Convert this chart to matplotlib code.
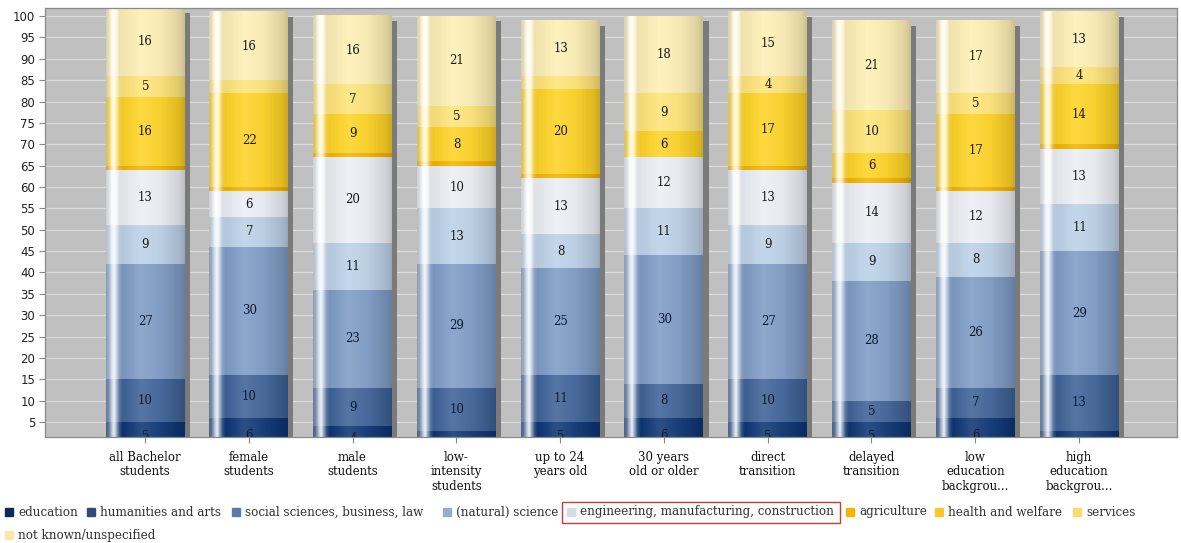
import numpy as np
import matplotlib
matplotlib.use("Agg")
import matplotlib.pyplot as plt
from matplotlib.patches import Rectangle
from matplotlib.colors import to_rgb

# ---------------- data ----------------
categories = ["all Bachelor\nstudents", "female\nstudents", "male\nstudents",
              "low-\nintensity\nstudents", "up to 24\nyears old", "30 years\nold or older",
              "direct\ntransition", "delayed\ntransition", "low\neducation\nbackgrou...",
              "high\neducation\nbackgrou..."]
series_names = ["education", "humanities and arts", "social sciences, business, law",
                "(natural) science", "engineering, manufacturing, construction",
                "agriculture", "health and welfare", "services", "not known/unspecified"]
education   = [5, 6, 4, 3, 5, 6, 5, 5, 6, 3]
humanities  = [10, 10, 9, 10, 11, 8, 10, 5, 7, 13]
social      = [27, 30, 23, 29, 25, 30, 27, 28, 26, 29]
science     = [9, 7, 11, 13, 8, 11, 9, 9, 8, 11]
engineering = [13, 6, 20, 10, 13, 12, 13, 14, 12, 13]
agriculture = [1, 1, 1, 1, 1, 0, 1, 1, 1, 1]
health      = [16, 22, 9, 8, 20, 6, 17, 6, 17, 14]
services    = [5, 3, 7, 5, 3, 9, 4, 10, 5, 4]
unknown     = [16, 16, 16, 21, 13, 18, 15, 21, 17, 13]
series = [education, humanities, social, science, engineering,
          agriculture, health, services, unknown]
yticks = list(range(5, 101, 5))

# ---------------- style ----------------
bar_colors = ["#0e3674", "#3f6398", "#7f9cc6", "#bdd2e8", "#eceff4",
              "#f5b400", "#ffd426", "#ffe57a", "#fff0b5"]
legend_colors = ["#0a2a5c", "#2d4a7a", "#5b7aa8", "#9aabc5", "#d6dae2",
                 "#f5b400", "#fbc52b", "#f8dc6e", "#fde9a5"]
label_colors = ["#0d1a33", "#0d1a33", "#0d1a33", "#1a1a1a", "#1a1a1a",
                "#1a1a1a", "#1a1a1a", "#1a1a1a", "#1a1a1a"]

W, H = 1181, 543
fig = plt.figure(figsize=(W / 100, H / 100), dpi=100)
fig.patch.set_facecolor("white")

L, R, T, B = 45, 1177, 8, 437
ax = fig.add_axes([L / W, 1 - B / H, (R - L) / W, (B - T) / H])
ax.set_facecolor("#c0c0c0")

x = np.arange(len(categories))
bw = 0.76
totals = np.sum(np.array(series), axis=0)

# shadow
ax.bar(x + 0.05, totals - 1.2, bottom=0, width=bw, color="#7a7a7a", zorder=1.5, linewidth=0)

# gradient profile (cylinder look)
tk = [0, 0.03, 0.07, 0.10, 0.13, 0.17, 0.21, 0.45, 0.70, 0.92, 1.0]
wk = [0.30, 0.35, 0.70, 0.92, 0.60, 0.18, 0.0, 0.12, 0.05, 0.0, 0.0]
dk = [0.85, 0.90, 1.0, 1.0, 1.0, 0.93, 0.95, 1.0, 0.97, 0.88, 0.80]
tt = np.linspace(0, 1, 200)
wmix = np.interp(tt, tk, wk)[:, None]
dmul = np.interp(tt, tk, dk)[:, None]

bottoms = np.zeros(len(categories))
for i, vals in enumerate(series):
    vals = np.array(vals, dtype=float)
    bars = ax.bar(x, vals, bottom=bottoms, width=bw, color=bar_colors[i],
                  linewidth=0, zorder=2)
    base = np.array(to_rgb(bar_colors[i]))[None, :]
    img = np.clip((base * (1 - wmix) + wmix) * dmul, 0, 1)[None, :, :]
    for j, p in enumerate(bars):
        if p.get_height() <= 0:
            continue
        x0, y0 = p.get_x(), p.get_y()
        ax.imshow(img, extent=(x0, x0 + p.get_width(), y0, y0 + p.get_height()),
                  aspect="auto", interpolation="bilinear", zorder=2.5)
        if vals[j] >= 4:
            ycen = y0 + p.get_height() / 2
            if i == 0:
                ycen = y0 + p.get_height() * 0.3
            ax.text(x0 + p.get_width() / 2 + 0.005, ycen, f"{int(vals[j])}",
                    ha="center", va="center", fontsize=8.5, family="DejaVu Serif",
                    color=label_colors[i], zorder=4, clip_on=True)
    bottoms += vals

ax.set_xlim(-0.963, 9.944)
ax.set_ylim(1.5, 101.9)
ax.set_yticks(yticks)
ax.set_yticklabels([str(v) for v in yticks], fontsize=8.5, color="#222222")
ax.set_xticks(x)
ax.set_xticklabels(categories, fontsize=8.5, family="DejaVu Serif", color="#111111",
                   linespacing=1.15)
ax.tick_params(axis="both", length=4, width=0.8, color="#888888", pad=3)
ax.tick_params(axis="x", pad=6)
ax.yaxis.grid(True, color="#d9d9d9", linewidth=0.9, zorder=0)
ax.set_axisbelow(True)
for s in ax.spines.values():
    s.set_color("#8a8a8a")
    s.set_linewidth(0.9)

# ---------------- legend (manual) ----------------
def fx(px):
    return px / W

def fy(py):
    return 1 - py / H

sq_x = [5, 87, 232, 443, 567, 846, 935, 1073, 5]
sq_y = [512, 512, 512, 512, 512, 512, 512, 512, 535]
for i, name in enumerate(series_names):
    fig.patches.append(Rectangle((fx(sq_x[i]), fy(sq_y[i] + 4)), 8 / W, 8 / H,
                                 transform=fig.transFigure, color=legend_colors[i]))
    fig.text(fx(sq_x[i] + 13), fy(sq_y[i]), name, fontsize=8.6, family="DejaVu Serif",
             color="#333333", va="center", ha="left")

fig.patches.append(Rectangle((fx(562), fy(523)), 278 / W, 21 / H, transform=fig.transFigure,
                             fill=False, edgecolor="#c83c3c", linewidth=1.0))

fig.savefig("out.png", dpi=100)
